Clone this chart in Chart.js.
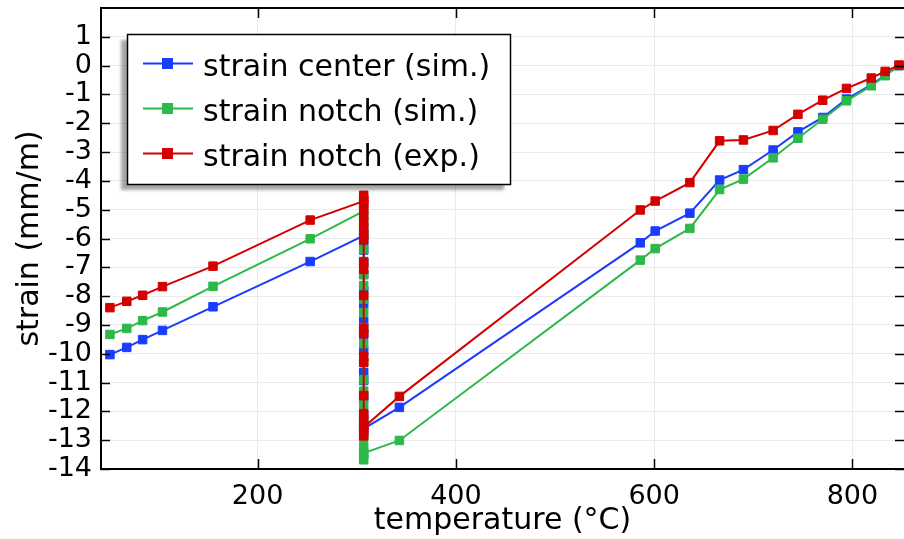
<!DOCTYPE html>
<html lang="en">
<head>
    <meta charset="UTF-8" />
    <title>Strain vs temperature</title>
    <style>
        html, body { margin: 0; padding: 0; background: #fff; }
        #wrap { width: 904px; height: 539px; }
    </style>
</head>
<body>
    <div id="wrap"><canvas id="strainChart" width="904" height="539"></canvas></div>

    <script src="https://cdn.jsdelivr.net/npm/chart.js@4"></script>
    <script>
        // temperatures (°C): first heating, the hold, second heating
        const tempHeat1 = [51, 68, 84, 104, 155, 253];
        const tempHold = 307;
        const tempHeat2 = [343, 586, 601, 636, 666, 690, 720, 745, 770, 794, 819, 833, 847];

        // strain center (sim.)
        const centerHeat1 = [-10.03, -9.78, -9.51, -9.19, -8.37, -6.80];
        const centerHold = [-5.90, -6.10, -6.40, -6.80, -7.25, -7.80, -8.29, -8.88, -9.33, -9.90, -10.65, -10.93, -11.50, -12.11, -12.40, -12.60];
        const centerHeat2 = [-11.86, -6.15, -5.74, -5.12, -3.97, -3.61, -2.93, -2.30, -1.80, -1.16, -0.67, -0.33, 0.0];

        // strain notch (sim.)
        const notchSimHeat1 = [-9.33, -9.12, -8.85, -8.55, -7.66, -6.01];
        const notchSimHold = [-5.05, -5.30, -5.60, -5.90, -6.38, -6.86, -7.25, -7.63, -8.10, -8.57, -9.10, -9.65, -10.30, -10.90, -11.30, -11.78, -12.40, -12.90, -13.23, -13.50, -13.68, -13.45];
        const notchSimHeat2 = [-13.01, -6.75, -6.35, -5.65, -4.30, -3.94, -3.20, -2.52, -1.86, -1.22, -0.70, -0.35, 0.0];

        // strain notch (exp.)
        const notchExpHeat1 = [-8.40, -8.18, -7.97, -7.67, -6.96, -5.36];
        const notchExpHold = [-4.70, -4.50, -4.64, -4.81, -4.99, -5.20, -5.41, -5.62, -5.82, -6.04, -6.83, -7.07, -7.98, -9.12, -9.30, -10.10, -10.30, -11.45, -12.08, -12.29, -12.50, -12.71, -12.85, -12.55];
        const notchExpHeat2 = [-11.48, -5.01, -4.70, -4.06, -2.61, -2.58, -2.25, -1.69, -1.20, -0.79, -0.43, -0.20, 0.02];

        const xTicks = [200, 400, 600, 800];
        const yTicks = [1, 0, -1, -2, -3, -4, -5, -6, -7, -8, -9, -10, -11, -12, -13, -14];

        function buildSeries(heat1, hold, heat2) {
            return [
                ...tempHeat1.map((t, i) => ({ x: t, y: heat1[i] })),
                ...hold.map(v => ({ x: tempHold, y: v })),
                ...tempHeat2.map((t, i) => ({ x: t, y: heat2[i] }))
            ];
        }

        function seriesStyle(label, color, data, order) {
            return {
                label: label,
                data: data,
                order: order,
                borderColor: color,
                backgroundColor: color,
                borderWidth: 2,
                pointStyle: 'rect',
                pointRadius: 6,
                pointBorderWidth: 1,
                pointBackgroundColor: color,
                pointBorderColor: color,
                tension: 0
            };
        }

        // inward ticks and the box around the plot
        const framePlugin = {
            id: 'frame',
            afterDatasetsDraw(chart) {
                const { ctx, chartArea: a, scales: { x, y } } = chart;
                ctx.save();
                ctx.strokeStyle = '#000';
                ctx.lineWidth = 1.5;
                ctx.beginPath();
                xTicks.forEach(v => {
                    const px = Math.round(x.getPixelForValue(v)) + 0.5;
                    ctx.moveTo(px, a.bottom); ctx.lineTo(px, a.bottom - 10);
                    ctx.moveTo(px, a.top); ctx.lineTo(px, a.top + 10);
                });
                yTicks.forEach(v => {
                    const py = Math.round(y.getPixelForValue(v)) + 0.5;
                    ctx.moveTo(a.left, py); ctx.lineTo(a.left + 9, py);
                    ctx.moveTo(a.right, py); ctx.lineTo(a.right - 9, py);
                });
                ctx.stroke();
                // frame: the right side sits just past the canvas edge
                ctx.lineWidth = 2;
                ctx.strokeRect(a.left, a.top, a.right - a.left + 1.5, a.bottom - a.top);
                ctx.restore();
            }
        };

        // legend box with drop shadow inside the plot
        const legendPlugin = {
            id: 'boxLegend',
            afterDraw(chart) {
                const ctx = chart.ctx;
                const bx = 127, by = 34, bw = 383, bh = 150;
                ctx.save();
                ctx.shadowColor = 'rgba(0, 0, 0, 0.35)';
                ctx.shadowOffsetX = -6;
                ctx.shadowOffsetY = 6;
                ctx.shadowBlur = 3;
                ctx.fillStyle = '#fff';
                ctx.fillRect(bx, by, bw, bh);
                ctx.restore();

                ctx.save();
                ctx.strokeStyle = '#000';
                ctx.lineWidth = 1.5;
                ctx.strokeRect(bx + 0.5, by + 0.5, bw, bh);
                chart.data.datasets.forEach((ds, i) => {
                    const cy = 63.5 + i * 45;
                    ctx.strokeStyle = ds.borderColor;
                    ctx.lineWidth = 2;
                    ctx.beginPath();
                    ctx.moveTo(143, cy);
                    ctx.lineTo(193, cy);
                    ctx.stroke();
                    ctx.fillStyle = ds.borderColor;
                    ctx.fillRect(162, cy - 5.5, 11, 11);
                    ctx.fillStyle = '#000';
                    ctx.font = '30px "DejaVu Sans"';
                    ctx.textBaseline = 'alphabetic';
                    ctx.fillText(ds.label, 203, cy + 12);
                });
                ctx.restore();
            }
        };

        Chart.defaults.font.family = '"DejaVu Sans", sans-serif';
        Chart.defaults.color = '#000';

        const ctx = document.getElementById('strainChart').getContext('2d');
        new Chart(ctx, {
            type: 'line',
            data: {
                datasets: [
                    seriesStyle('strain center (sim.)', '#1a3cff', buildSeries(centerHeat1, centerHold, centerHeat2), 3),
                    seriesStyle('strain notch (sim.)', '#2db84a', buildSeries(notchSimHeat1, notchSimHold, notchSimHeat2), 2),
                    seriesStyle('strain notch (exp.)', '#d40000', buildSeries(notchExpHeat1, notchExpHold, notchExpHeat2), 1)
                ]
            },
            options: {
                responsive: false,
                animation: false,
                layout: { autoPadding: false, padding: { top: 8, right: 0, left: 0, bottom: 0 } },
                plugins: {
                    legend: { display: false },
                    tooltip: { enabled: false }
                },
                scales: {
                    x: {
                        type: 'linear',
                        min: 42,
                        max: 852,
                        afterBuildTicks: (scale) => { scale.ticks = xTicks.map(v => ({ value: v })); },
                        afterFit: (scale) => { scale.height = 70; scale.paddingLeft = 0; scale.paddingRight = 0; },
                        grid: { color: '#ebebeb', lineWidth: 1, drawTicks: false },
                        border: { display: false },
                        ticks: { font: { size: 27 }, padding: 12, maxRotation: 0, autoSkip: false },
                        title: { display: true, text: 'temperature (°C)', font: { size: 30, lineHeight: 1.2 }, padding: { top: 0, bottom: 0 } }
                    },
                    y: {
                        min: -14,
                        max: 2,
                        afterBuildTicks: (scale) => { scale.ticks = yTicks.map(v => ({ value: v })); },
                        afterFit: (scale) => { scale.width = 101; scale.paddingTop = 0; scale.paddingBottom = 0; },
                        grid: { color: '#ebebeb', lineWidth: 1, drawTicks: false },
                        border: { display: false },
                        ticks: { font: { size: 27 }, padding: 9, autoSkip: false },
                        title: { display: true, text: 'strain (mm/m)', font: { size: 30, lineHeight: 1.2 }, padding: { top: 12, bottom: 0 } }
                    }
                }
            },
            plugins: [framePlugin, legendPlugin]
        });
    </script>
</body>
</html>
